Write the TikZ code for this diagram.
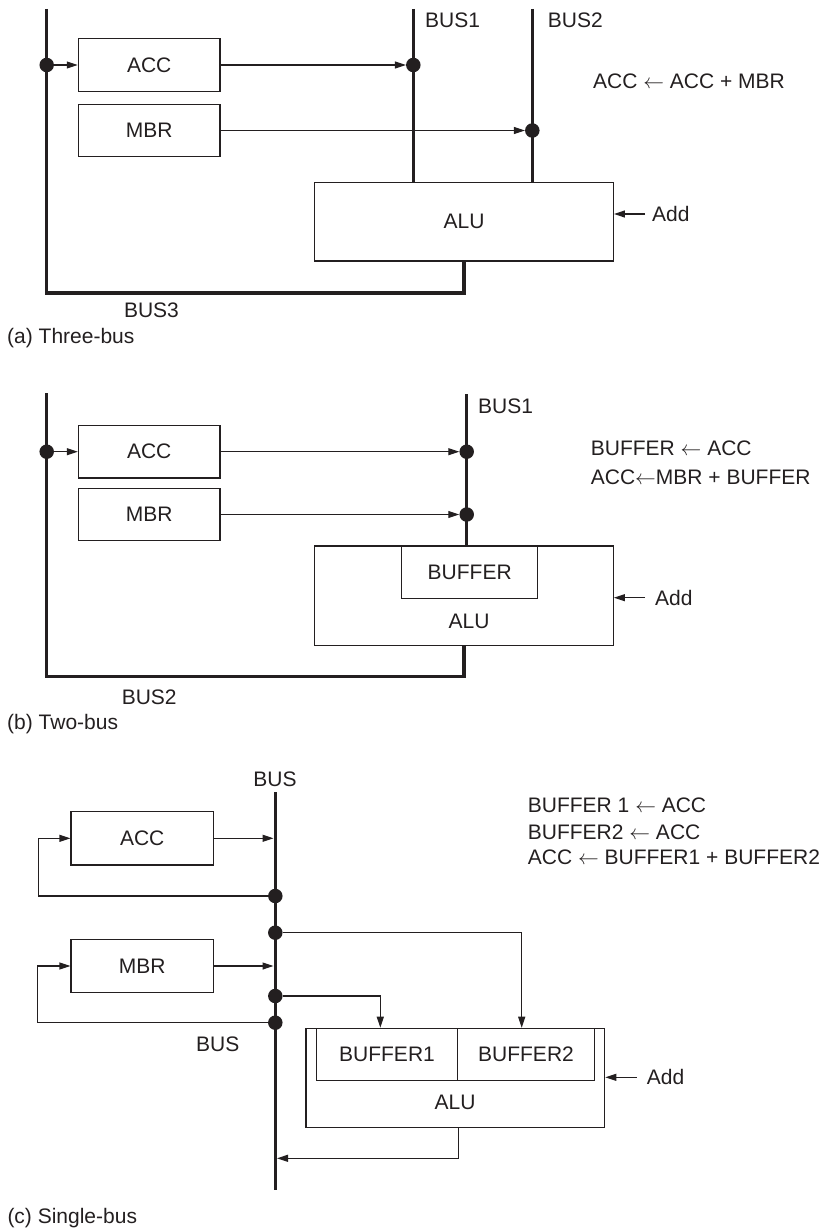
\documentclass[tikz,border=0pt]{standalone}
\usepackage{fontspec}
\setmainfont{Liberation Sans}
\usetikzlibrary{arrows.meta}
\definecolor{ink}{HTML}{231F20}
\begin{document}
\begin{tikzpicture}[x=1pt,y=-1pt,font=\fontsize{21}{25}\selectfont,
  box/.style={draw=ink,line width=1.2pt,rectangle,inner sep=0pt,text=ink},
  bus/.style={draw=ink,line width=3.2pt},
  wire/.style={draw=ink,line width=1.1pt},
  arr/.style={wire,-{Triangle[length=11pt,width=7pt]}},
  dot/.style={circle,fill=ink,inner sep=0pt,minimum size=14.5pt},
  lbl/.style={inner sep=0pt,text=ink}]
\useasboundingbox (0,0) rectangle (822,1228);

% ---------------- (a) Three-bus ----------------
\node[box,minimum width=141.7pt,minimum height=52.4pt] (accA) at (149.2,65) {ACC};
\node[box,minimum width=141.7pt,minimum height=52.4pt] (mbrA) at (149.2,130.5) {MBR};
\node[box,minimum width=298.7pt,minimum height=78.7pt] (aluA) at (464,221.7) {ALU};
\coordinate (busAtop) at (46.7,9);
\coordinate (busAbot) at (46.7,293);
\coordinate (b1Atop) at (413.3,9);
\coordinate (b2Atop) at (532.3,9);
\draw[bus] (busAtop) -- (busAbot) -| (aluA.south);
\draw[bus] (b1Atop) -- (b1Atop |- aluA.north);
\draw[bus] (b2Atop) -- (b2Atop |- aluA.north);
\node[dot] (dA0) at (46.7,65) {};
\node[dot] (dA1) at (413.3,65) {};
\node[dot] (dA2) at (532.3,130.5) {};
\draw[arr] (dA0) -- (accA.west);
\draw[arr] (accA.east) -- (dA1);
\draw[arr] (mbrA.east) -- (dA2);
\node[lbl,anchor=west] (lB1A) at (425,20) {BUS1};
\node[lbl,anchor=west] (lB2A) at (547.7,20) {BUS2};
\node[lbl] (lB3A) at (151.5,310) {BUS3};
\node[lbl,anchor=base west] (capA) at (7,343) {(a) Three-bus};
\node[lbl,anchor=base west] (eqA) at (593,89) {ACC $\leftarrow$ ACC + MBR};
\node[lbl,anchor=west] (addA) at (652,214) {Add};
\draw[arr] ([xshift=-7pt]addA.west) -- (aluA.east |- addA.west);

% ---------------- (b) Two-bus ----------------
\node[box,minimum width=141.7pt,minimum height=52.4pt] (accB) at (149.2,451.7) {ACC};
\node[box,minimum width=141.7pt,minimum height=52.4pt] (mbrB) at (149.2,514.5) {MBR};
\node[box,minimum width=298.6pt,minimum height=99.7pt] (aluB) at (464,595.9) {};
\node[box,minimum width=136pt,minimum height=52.4pt] (bufB) at (469.7,572.2) {BUFFER};
\node[lbl] (aluBl) at (469,621.7) {ALU};
\coordinate (busBtop) at (46.7,393.3);
\coordinate (busBbot) at (46.7,676.7);
\coordinate (b1Btop) at (466.7,394.3);
\draw[bus] (busBtop) -- (busBbot) -| (aluB.south);
\draw[bus] (b1Btop) -- (b1Btop |- bufB.north);
\node[dot] (dB0) at (46.7,451.7) {};
\node[dot] (dB1) at (466.7,451.7) {};
\node[dot] (dB2) at (466.7,514.5) {};
\draw[arr] (dB0) -- (accB.west);
\draw[arr] (accB.east) -- (dB1);
\draw[arr] (mbrB.east) -- (dB2);
\node[lbl,anchor=west] (lB1B) at (478,406.7) {BUS1};
\node[lbl] (lB2B) at (149.2,697.3) {BUS2};
\node[lbl,anchor=base west] (capB) at (7,729.2) {(b) Two-bus};
\node[lbl,anchor=base west] (eqB1) at (590.7,455.8) {BUFFER $\leftarrow$ ACC};
\node[lbl,anchor=base west] (eqB2) at (590.7,484.8) {ACC$\leftarrow$MBR + BUFFER};
\node[lbl,anchor=west] (addB) at (655,597.7) {Add};
\draw[arr] ([xshift=-10pt]addB.west) -- (aluB.east |- addB.west);

% ---------------- (c) Single-bus ----------------
\node[box,minimum width=142.3pt,minimum height=53.4pt] (accC) at (142.2,838.3) {ACC};
\node[box,minimum width=142.3pt,minimum height=53pt] (mbrC) at (142.2,966) {MBR};
\node[box,minimum width=298.7pt,minimum height=99pt] (aluC) at (455.35,1077.8) {};
\node[box,minimum width=141.4pt,minimum height=52.4pt] (buf1C) at (387,1054.5) {BUFFER1};
\node[box,minimum width=136.6pt,minimum height=52.4pt] (buf2C) at (526,1054.5) {BUFFER2};
\node[lbl] (aluCl) at (455,1102.7) {ALU};
\coordinate (busCtop) at (275.3,792.3);
\coordinate (busCbot) at (275.3,1190);
\draw[bus] (busCtop) -- (busCbot);
\node[dot] (c1) at (275.3,896) {};
\node[dot] (c2) at (275.3,932.7) {};
\node[dot] (c3) at (275.3,996) {};
\node[dot] (c4) at (275.3,1022.7) {};
\coordinate (cAccIn) at (273.5,838.3);
\coordinate (cMbrIn) at (273.5,966);
\coordinate (fbAcc) at (38.3,896);
\coordinate (fbMbr) at (37.7,1022.7);
\coordinate (cOut) at (277,1158.3);
\draw[arr] (accC.east) -- (cAccIn);
\draw[arr] (mbrC.east) -- (cMbrIn);
\draw[arr] (c1) -- (fbAcc) |- (accC.west);
\draw[arr] (c4) -- (fbMbr) |- (mbrC.west);
\draw[arr] (c2) -| ([xshift=-4.3pt]buf2C.north);
\draw[arr] (c3) -| ([xshift=-6.7pt]buf1C.north);
\draw[arr] ([xshift=3pt]aluC.south) |- (cOut);
\node[lbl] (lBusCt) at (275,779.3) {BUS};
\node[lbl] (lBusCb) at (217.7,1044) {BUS};
\node[lbl,anchor=base west] (eqC1) at (527.7,812.5) {BUFFER 1 $\leftarrow$ ACC};
\node[lbl,anchor=base west] (eqC2) at (527.7,839.2) {BUFFER2 $\leftarrow$ ACC};
\node[lbl,anchor=base west] (eqC3) at (527.7,864.8) {ACC $\leftarrow$ BUFFER1 + BUFFER2};
\node[lbl,anchor=west] (addC) at (646.7,1077.3) {Add};
\draw[arr] ([xshift=-10pt]addC.west) -- (aluC.east |- addC.west);
\node[lbl,anchor=base west] (capC) at (7.3,1223.3) {(c) Single-bus};
\end{tikzpicture}
\end{document}
